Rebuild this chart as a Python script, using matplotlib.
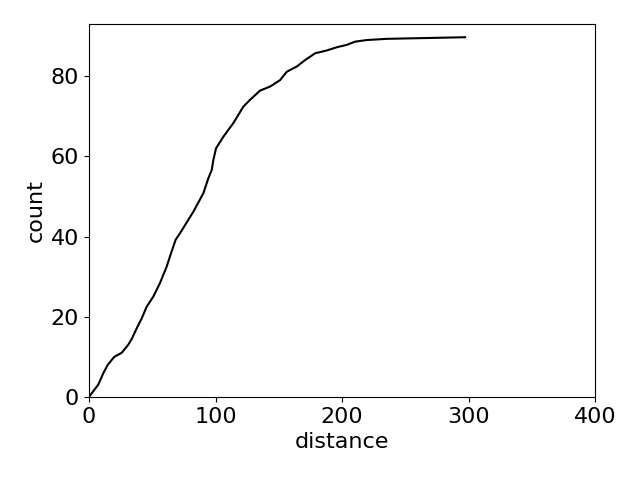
import numpy as np
import matplotlib
matplotlib.use("Agg")
import matplotlib.pyplot as plt

# cumulative count against distance
distance = [0, 7.4, 11.3, 14.8, 20, 25.8, 31, 33.7, 37.7, 41.7, 45.6, 50.8, 56.1,
            61.4, 64.8, 68.5, 71.9, 82.5, 90.4, 94.3, 97, 98.3, 100.4, 106.2,
            114.1, 122, 127.3, 135.2, 143.1, 151, 156.3, 164.2, 170.8, 178.7,
            187.9, 195.8, 203.7, 210.3, 219.5, 235.3, 297.2]
count = [0, 3.1, 5.9, 8.0, 10.0, 11.0, 13.0, 14.4, 17.1, 19.6, 22.5, 25.0, 28.4,
         32.5, 35.8, 39.2, 40.8, 46.2, 50.8, 54.5, 56.6, 59.1, 62.0, 64.9,
         68.3, 72.4, 74.1, 76.4, 77.4, 79.0, 81.1, 82.4, 84.0, 85.7,
         86.4, 87.2, 87.8, 88.6, 89.0, 89.3, 89.7]

plt.rcParams['font.size'] = 16

fig, ax = plt.subplots(figsize=(6.4, 4.8), dpi=100)
ax.plot(distance, count, color='k', lw=1.5)
ax.set_xlim(0, 400)
ax.set_ylim(0, 93)
ax.set_xticks([0, 100, 200, 300, 400])
ax.set_yticks([0, 20, 40, 60, 80])
ax.set_xlabel('distance')
ax.set_ylabel('count')

fig.subplots_adjust(left=0.139, right=0.930, bottom=0.173, top=0.95)
plt.savefig('out.png')
